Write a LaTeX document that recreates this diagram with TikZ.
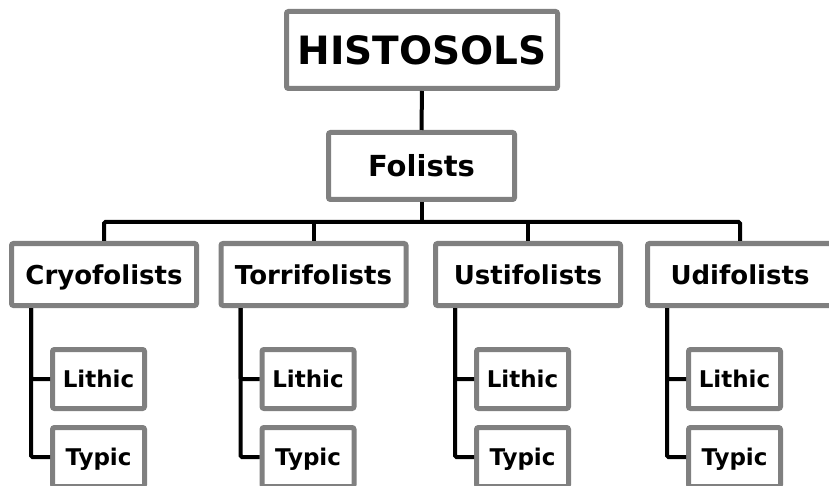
\documentclass[tikz,border=0pt]{standalone}
\usepackage{fontspec}
\setmainfont{DejaVu Sans}
\usetikzlibrary{positioning}
\definecolor{boxgrey}{RGB}{128,128,128}

\begin{document}
\begin{tikzpicture}[
  x=1pt, y=-1pt,
  box/.style={draw=boxgrey, line width=5pt, fill=white, rounded corners=2pt,
              inner sep=0pt, text depth=0pt},
  root/.style={box, minimum width=271pt, minimum height=77pt, text height=28.5pt,
               font=\fontsize{39}{41}\selectfont\bfseries},
  order/.style={box, minimum width=186pt, minimum height=67pt, text height=21pt,
                font=\fontsize{29}{31}\selectfont\bfseries},
  subord/.style={box, minimum width=185pt, minimum height=62pt, text height=19pt,
                 font=\fontsize{26}{28}\selectfont\bfseries},
  leaf/.style={box, minimum width=92pt, minimum height=59pt, text height=17pt,
               font=\fontsize{23}{25}\selectfont\bfseries},
  link/.style={line width=4pt, rounded corners=1.5pt}
]
\useasboundingbox (0,0) rectangle (829,486);
\coordinate (bus) at (0,222);
\node[root] (histo) at (422,50) {HISTOSOLS};
\node[order] (folists) at (421.5,166) {Folists};
\node[subord] (cryo) at (104,274.5) {Cryofolists};
\node[subord] (torri) at (313.5,274.5) {Torrifolists};
\node[subord] (usti) at (528,274.5) {Ustifolists};
\node[subord] (udi) at (740,274.5) {Udifolists};
\node[leaf] (cryoLith) at (98.5,379) {Lithic};
\node[leaf] (cryoTyp) at (98.5,457) {Typic};
\node[leaf] (torriLith) at (308,379) {Lithic};
\node[leaf] (torriTyp) at (308,457) {Typic};
\node[leaf] (ustiLith) at (522.5,379) {Lithic};
\node[leaf] (ustiTyp) at (522.5,457) {Typic};
\node[leaf] (udiLith) at (734.5,379) {Lithic};
\node[leaf] (udiTyp) at (734.5,457) {Typic};
\draw[link] (histo) -- (folists);
\draw[link] (folists.south) -- (folists.south |- bus);
\draw[link] (cryo.north) |- (bus -| udi.north) -- (udi.north);
\draw[link] (torri.north) -- (torri.north |- bus);
\draw[link] (usti.north) -- (usti.north |- bus);
\draw[link] ([xshift=22pt]cryo.south west) |- (cryoLith.west);
\draw[link] ([xshift=22pt]cryo.south west) |- (cryoTyp.west);
\draw[link] ([xshift=22pt]torri.south west) |- (torriLith.west);
\draw[link] ([xshift=22pt]torri.south west) |- (torriTyp.west);
\draw[link] ([xshift=22pt]usti.south west) |- (ustiLith.west);
\draw[link] ([xshift=22pt]usti.south west) |- (ustiTyp.west);
\draw[link] ([xshift=22pt]udi.south west) |- (udiLith.west);
\draw[link] ([xshift=22pt]udi.south west) |- (udiTyp.west);
\end{tikzpicture}
\end{document}
